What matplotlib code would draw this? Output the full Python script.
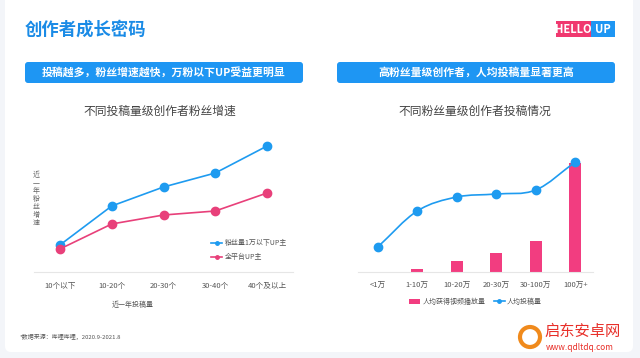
import numpy as np
import matplotlib
matplotlib.use('Agg')
import matplotlib.pyplot as plt
from matplotlib.patches import FancyBboxPatch, Rectangle, PathPatch
from matplotlib.path import Path
from matplotlib.lines import Line2D

plt.rcParams['font.family'] = ['Noto Sans CJK SC', 'DejaVu Sans']

# 左图：不同投稿量级创作者粉丝增速（无刻度，相对高度）
cats_left = ['10个以下', '10-20个', '20-30个', '30-40个', '40个及以上']
fans_under_1w = [27, 66, 85, 99, 126]
fans_all = [23, 48, 57, 61, 79]

# 右图：不同粉丝量级创作者投稿情况
cats_right = ['<1万', '1-10万', '10-20万', '20-30万', '30-100万', '100万+']
avg_views = [0, 3, 11, 19, 31, 109]
avg_posts = [25, 61, 75, 78, 82, 110]

W, H = 640, 358
BLUE = '#1E9BF0'
PINK_LINE = '#E8407A'
PINK_BAR = '#F23D80'
GRAY = '#555555'


def box(x0, y0, x1, y1):
    return [x0 / W, 1 - y1 / H, (x1 - x0) / W, (y1 - y0) / H]


fig = plt.figure(figsize=(6.4, 3.58), dpi=100)
fig.patch.set_facecolor('#F3F5F9')

# 背景层，像素坐标
bg = fig.add_axes([0, 0, 1, 1], zorder=-1)
bg.set_xlim(0, W)
bg.set_ylim(H, 0)
bg.axis('off')
bg.add_patch(FancyBboxPatch((5, -10), 628, 362, boxstyle='round,pad=0,rounding_size=6',
                            facecolor='white', edgecolor='none'))
bg.add_patch(FancyBboxPatch((25, 62), 278, 21, boxstyle='round,pad=0,rounding_size=3',
                            facecolor='#1E96F3', edgecolor='none'))
bg.add_patch(FancyBboxPatch((337, 62), 278, 21, boxstyle='round,pad=0,rounding_size=3',
                            facecolor='#1E96F3', edgecolor='none'))

bg.text(25, 30, '创作者成长密码', fontsize=12.5, fontweight='bold', color='#1A8BE6',
        ha='left', va='center')
bg.text(164, 72.5, '投稿越多，粉丝增速越快，万粉以下UP受益更明显', fontsize=7.8,
        fontweight='bold', color='white', ha='center', va='center')
bg.text(476, 72.5, '高粉丝量级创作者，人均投稿量显著更高', fontsize=7.8,
        fontweight='bold', color='white', ha='center', va='center')

# HELLO UP 标志
bg.add_patch(Rectangle((556, 21), 35, 16, facecolor='#F0386F', edgecolor='none'))
bg.add_patch(Rectangle((591, 21), 24, 16, facecolor='#1E96F3', edgecolor='none'))
bg.text(573, 29.5, 'HELLO', fontsize=8, fontweight='bold', style='italic', color='white',
        ha='center', va='center')
bg.text(603, 29.5, 'UP', fontsize=8, fontweight='bold', style='italic', color='white',
        ha='center', va='center')

bg.text(160, 111, '不同投稿量级创作者粉丝增速', fontsize=8.5, color='#444444',
        ha='center', va='center')
bg.text(475, 111, '不同粉丝量级创作者投稿情况', fontsize=8.5, color='#444444',
        ha='center', va='center')
for i, ch in enumerate('近一年粉丝增速'):
    bg.text(36, 175 + i * 8, ch, fontsize=5, color='#666666', ha='center', va='center')
bg.text(133, 305, '近一年投稿量', fontsize=5, color=GRAY, ha='center', va='center')
bg.text(20, 337, '*数据来源：哔哩哔哩，2020.9-2021.8', fontsize=4.3, color=GRAY,
        ha='left', va='center')

# 水印
bg.add_patch(plt.Circle((530, 337), 10, facecolor='none', edgecolor='#F08A1C', linewidth=3))
bg.text(544, 331, '启东安卓网', fontsize=11, color='#E8302A', ha='left', va='center')
bg.text(546, 347, 'www.qdltdq.com', fontsize=6, color='#E8302A', ha='left', va='center')

# 左图
ax1 = fig.add_axes(box(34, 122, 293, 272))
ax1.set_facecolor('none')
x1 = np.arange(len(cats_left))
ax1.plot(x1, fans_under_1w, color=BLUE, linewidth=1.2, marker='o', markersize=6,
         label='粉丝量1万以下UP主', zorder=3)
ax1.plot(x1, fans_all, color=PINK_LINE, linewidth=1.2, marker='o', markersize=6,
         label='全平台UP主', zorder=3)
ax1.set_xlim(-0.5, 4.5)
ax1.set_ylim(0, 150)
ax1.set_xticks(x1)
ax1.set_xticklabels(cats_left, fontsize=5.5, color=GRAY)
ax1.set_yticks([])
ax1.tick_params(axis='x', length=0, pad=7)
for s in ['top', 'right', 'left']:
    ax1.spines[s].set_visible(False)
ax1.spines['bottom'].set_color('#E6E6E6')
ax1.spines['bottom'].set_linewidth(0.8)
leg_handles = [Line2D([], [], color=BLUE, marker='o', markersize=2.5, linewidth=1.2),
               Line2D([], [], color=PINK_LINE, marker='o', markersize=2.5, linewidth=1.2)]
ax1.legend(leg_handles, ['粉丝量1万以下UP主', '全平台UP主'], loc='lower right',
           bbox_to_anchor=(1.0, 0.03), frameon=False, fontsize=5, handlelength=1.6,
           handletextpad=0.3, labelspacing=0.9, labelcolor=GRAY)

# 右图
ax2 = fig.add_axes(box(358, 122, 593, 272))
ax2.set_facecolor('none')
x2 = np.arange(len(cats_right))
ax2.bar(x2, avg_views, width=0.3, color=PINK_BAR, zorder=2)

# 平滑曲线：以数据点为端点的三次贝塞尔
pts = np.column_stack([x2, avg_posts]).astype(float)
tang = np.zeros_like(pts)
tang[1:-1] = (pts[2:] - pts[:-2]) / 2
tang[0] = pts[1] - pts[0]
tang[-1] = pts[-1] - pts[-2]
verts = [tuple(pts[0])]
codes = [Path.MOVETO]
for i in range(len(pts) - 1):
    verts += [tuple(pts[i] + tang[i] / 3), tuple(pts[i + 1] - tang[i + 1] / 3), tuple(pts[i + 1])]
    codes += [Path.CURVE4] * 3
ax2.add_patch(PathPatch(Path(verts, codes), facecolor='none', edgecolor=BLUE,
                        linewidth=1.2, zorder=3))
ax2.plot(x2, avg_posts, linestyle='none', marker='o', markersize=6, color=BLUE, zorder=4)
ax2.set_xlim(-0.5, 5.45)
ax2.set_ylim(0, 150)
ax2.set_xticks(x2)
ax2.set_xticklabels(cats_right, fontsize=5.5, color=GRAY)
ax2.set_yticks([])
ax2.tick_params(axis='x', length=0, pad=7)
for s in ['top', 'right', 'left']:
    ax2.spines[s].set_visible(False)
ax2.spines['bottom'].set_color('#E6E6E6')
ax2.spines['bottom'].set_linewidth(0.8)
leg2 = [Rectangle((0, 0), 1, 1, facecolor=PINK_BAR),
        Line2D([], [], color=BLUE, marker='o', markersize=2.5, linewidth=1.2)]
ax2.legend(leg2, ['人均获得视频播放量', '人均投稿量'], loc='upper center',
           bbox_to_anchor=(0.5, -0.13), ncol=2, frameon=False, fontsize=5,
           handlelength=1.6, handletextpad=0.3, columnspacing=1.2, labelcolor=GRAY)

fig.savefig('out.png', dpi=100, facecolor=fig.get_facecolor())
